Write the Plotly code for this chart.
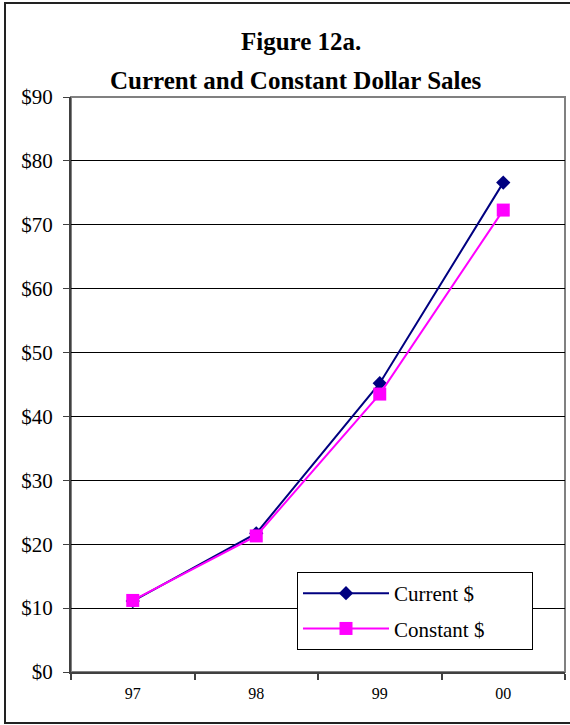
import plotly.graph_objects as go

# valores (miles de millones de $)
anios = ["97", "98", "99", "00"]
current_usd = [11.1, 21.7, 45.2, 76.6]
constant_usd = [11.2, 21.3, 43.5, 72.3]

W, H = 570, 725
L, R, T, B = 71, 5, 97, 53
pw, ph = W - L - R, H - T - B
FONT = "Liberation Serif, Times New Roman, serif"
NB = "\u00a0"


def px_x(x):
    return (x - L) / pw


def px_y(y):
    return (H - B - y) / ph


fig = go.Figure()
fig.add_trace(go.Scatter(
    x=anios, y=current_usd, name="Current $" + NB * 8, mode="lines+markers",
    legendgroup="a",
    line=dict(color="#000080", width=2),
    marker=dict(symbol="diamond", size=11, color="#000080"),
))
fig.add_trace(go.Scatter(
    x=anios, y=constant_usd, name="Constant $" + NB * 8, mode="lines+markers",
    legendgroup="b",
    line=dict(color="#FF00FF", width=2),
    marker=dict(symbol="square", size=13, color="#FF00FF"),
))

fig.update_layout(
    width=W, height=H,
    margin=dict(l=L, r=R, t=T, b=B),
    paper_bgcolor="white", plot_bgcolor="white",
    font=dict(family=FONT, color="black"),
    showlegend=True,
    legend=dict(
        x=px_x(297), y=px_y(572), xanchor="left", yanchor="top",
        bgcolor="white", bordercolor="black", borderwidth=1,
        font=dict(size=21, family=FONT),
        tracegroupgap=5, itemwidth=86,
    ),
    annotations=[
        dict(text="<b>Figure 12a.</b>", xref="paper", yref="paper",
             x=px_x(301), y=px_y(41), xanchor="center", yanchor="middle",
             showarrow=False, font=dict(size=25, family=FONT)),
        dict(text="<b>Current and Constant Dollar Sales</b>", xref="paper", yref="paper",
             x=px_x(296), y=px_y(80), xanchor="center", yanchor="middle",
             showarrow=False, font=dict(size=25, family=FONT)),
    ],
    shapes=[
        # borde del area de trazado
        dict(type="rect", xref="paper", yref="paper", x0=0, x1=1, y0=0, y1=1,
             line=dict(color="#808080", width=2), layer="below"),
        # marco exterior
        dict(type="rect", xref="paper", yref="paper",
             x0=px_x(5), x1=px_x(573), y0=px_y(723), y1=px_y(3),
             line=dict(color="#222222", width=2)),
    ],
)

fig.update_xaxes(
    type="category", range=[-0.5, 3.5], tickson="boundaries",
    ticks="outside", ticklen=6, tickcolor="#404040", tickwidth=2,
    showline=True, linecolor="#404040", linewidth=2,
    showgrid=False, tickfont=dict(size=16, family=FONT),
    ticklabelstandoff=6,
)
fig.update_yaxes(
    range=[0, 90], dtick=10, tickprefix="$",
    ticks="outside", ticklen=6, tickcolor="#404040", tickwidth=1,
    showline=True, linecolor="#404040", linewidth=2,
    showgrid=True, gridcolor="black", gridwidth=1, zeroline=False,
    tickfont=dict(size=21, family=FONT),
    ticklabelstandoff=6,
)

fig.write_html("out.html", config={"displayModeBar": False},
               post_script="document.body.style.margin='0';")
